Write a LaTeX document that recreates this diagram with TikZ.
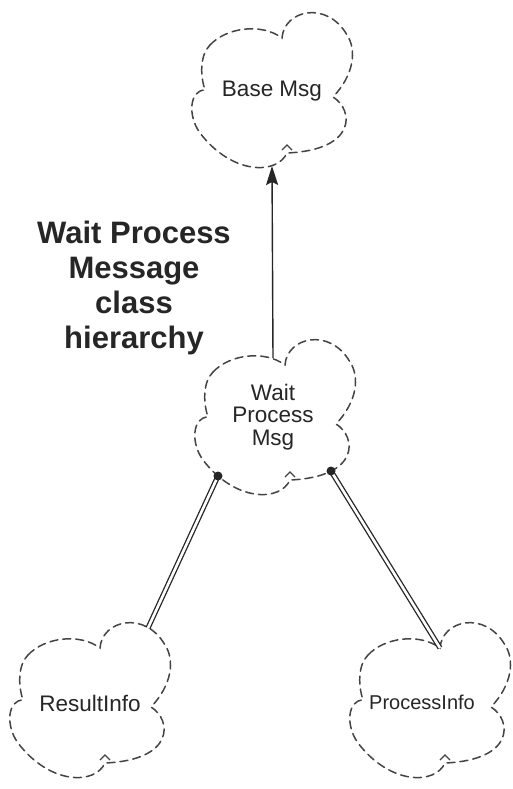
\documentclass[tikz,border=0pt]{standalone}
\usepackage{fontspec}
\setmainfont{Liberation Sans}
\usetikzlibrary{arrows.meta}
\definecolor{ink}{HTML}{262626}
\definecolor{cloudink}{HTML}{444444}
\tikzset{
  cloudline/.style={draw=cloudink, line width=1.5pt, dash pattern=on 8pt off 5pt, line cap=round},
  cuspmark/.style={draw=cloudink, line width=1.3pt},
  cloudlabel/.style={font=\fontsize{22.5}{22.5}\selectfont, text=ink, align=center, inner sep=0pt},
  smalllabel/.style={cloudlabel, font=\fontsize{20}{20}\selectfont},
  titlelabel/.style={font=\fontsize{31}{35}\selectfont\bfseries, text=ink, align=center, inner sep=0pt},
  inherits/.style={draw=ink, line width=1.4pt, -{Stealth[length=19pt,width=12pt,inset=3pt]}},
  hasline/.style={draw=ink, line width=1.3pt, double=white, double distance=2.6pt},
  hasdot/.style={fill=ink},
  % Booch class cloud, drawn round the origin of the pic
  boochcloud/.pic={
    \path[cloudline] (-62,-50)
      .. controls (-45,-68) and (-10,-72) .. (10,-57)
      .. controls (12,-85) and (55,-95) .. (75,-60)
      .. controls (85,-45) and (82,-20) .. (61,2)
      .. controls (82,15) and (85,55) .. (15,58)
      .. controls (5,80) and (-40,80) .. (-72,38)
      .. controls (-85,20) and (-82,-5) .. (-67,-5)
      .. controls (-72,-20) and (-72,-40) .. cycle;
    \draw[cuspmark] (10,55) -- (15,50) -- (20,55);
    \coordinate (-top) at (-2,-64);
    \coordinate (-bottom) at (0,71);
    \coordinate (-lowleft) at (-57,54);
    \coordinate (-lowright) at (56,49);
    \coordinate (-topnotch) at (10,-57);
    \coordinate (-topright) at (58,-77);
  }
}
\begin{document}
\begin{tikzpicture}[x=1pt,y=-1pt]
  \fill[white] (0,0) rectangle (513,789);
  \useasboundingbox (0,0) rectangle (513,789);

  % classes
  \pic (bm)  at (272,95)  {boochcloud};
  \pic (wpm) at (275,422) {boochcloud};
  \pic (ri)  at (90,705)  {boochcloud};
  \pic (pi)  at (430,705) {boochcloud};

  \node[cloudlabel] (bmtext)  at (272,91)  {Base Msg};
  \node[cloudlabel] (wpmtext) at (273,417) {Wait\\Process\\Msg};
  \node[cloudlabel] (ritext)  at (90,703)  {ResultInfo};
  \node[smalllabel] (pitext)  at (422,702) {ProcessInfo};

  % heading
  \node[titlelabel, anchor=north] (title) at (134,221)
    {Wait Process\\Message\\class\\hierarchy};

  % inheritance
  \draw[inherits] (wpm-top) -- (bm-bottom);

  % has relationships
  \draw[hasline] (wpm-lowleft) -- (ri-topright);
  \draw[hasline] (wpm-lowright) -- (pi-topnotch);
  \fill[hasdot] (wpm-lowleft) circle (4.5pt);
  \fill[hasdot] (wpm-lowright) circle (4.5pt);
\end{tikzpicture}
\end{document}
